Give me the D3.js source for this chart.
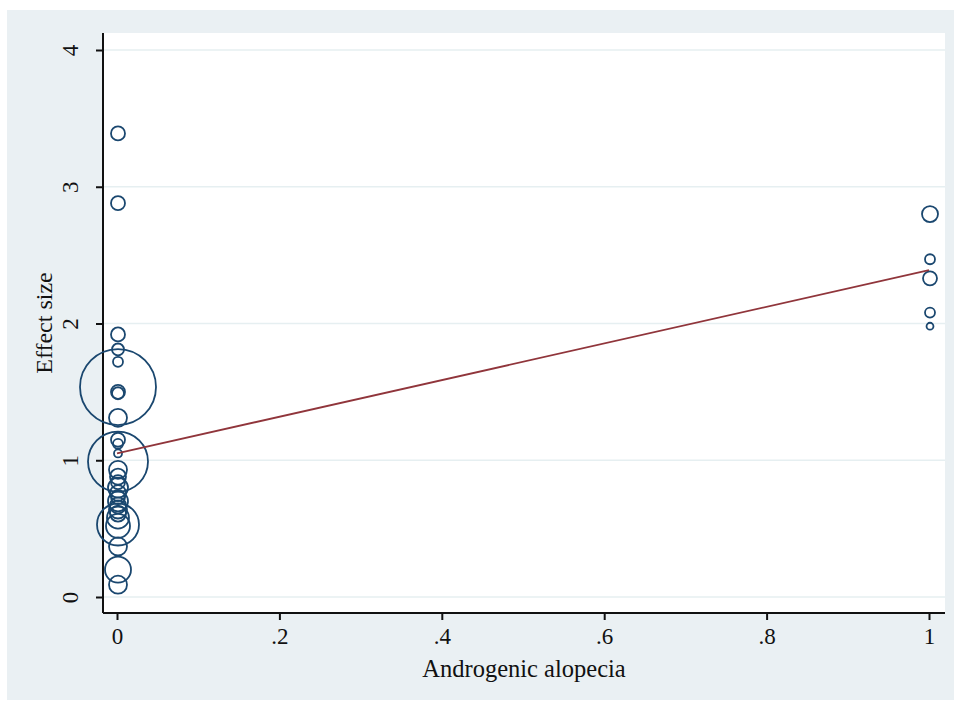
<!DOCTYPE html>
<html>
<head>
<meta charset="utf-8">
<script src="https://cdn.jsdelivr.net/npm/d3@7"></script>
<style>
  html, body { margin: 0; padding: 0; background: #ffffff; }
  svg { display: block; }
  text { font-family: "Liberation Serif", "Times New Roman", serif; fill: #111; }
</style>
</head>
<body>
<svg id="chart" width="954" height="702"></svg>
<script>
// Studies without androgenic alopecia (x = 0): effect size and weight
const groupNoEffect = [3.39, 2.88, 1.92, 1.81, 1.72, 1.535, 1.50, 1.49, 1.31, 1.15, 1.12, 1.05, 0.99,
  0.93, 0.88, 0.84, 0.80, 0.76, 0.73, 0.70, 0.67, 0.64, 0.61, 0.58, 0.53, 0.52, 0.37, 0.20, 0.09];
const groupNoWeight = [49, 49, 49, 36, 25, 1444, 49, 36, 81, 49, 25, 16, 900,
  81, 64, 49, 100, 64, 49, 100, 64, 81, 64, 121, 441, 144, 81, 169, 81];

// Studies with androgenic alopecia (x = 1)
const groupYesEffect = [2.80, 2.47, 2.33, 2.08, 1.98];
const groupYesWeight = [64, 25, 49, 25, 12];

// Fitted meta-regression line (intercept at x = 0, value at x = 1)
const fitX = [0, 1];
const fitY = [1.05, 2.39];

const xTicks = [0, 0.2, 0.4, 0.6, 0.8, 1];
const xTickLabels = ["0", ".2", ".4", ".6", ".8", "1"];
const yTicks = [0, 1, 2, 3, 4];
const yTickLabels = ["0", "1", "2", "3", "4"];
const xTitle = "Androgenic alopecia";
const yTitle = "Effect size";

const svg = d3.select("#chart");

// Outer graph region
svg.append("rect").attr("x", 7).attr("y", 10).attr("width", 947).attr("height", 690)
  .attr("fill", "#eaf0f3");

// Plot region
const plot = { left: 103, top: 33, right: 945, bottom: 613 };
svg.append("rect").attr("x", plot.left).attr("y", plot.top)
  .attr("width", plot.right - plot.left).attr("height", plot.bottom - plot.top)
  .attr("fill", "#ffffff");

const x = d3.scaleLinear().domain([0, 1]).range([117, 929]);
const y = d3.scaleLinear().domain([0, 4]).range([597, 50]);
const r = d3.scaleSqrt().domain([0, 1]).range([0, 1]);

// Horizontal grid lines
svg.append("g").selectAll("line").data(yTicks).join("line")
  .attr("x1", plot.left).attr("x2", plot.right)
  .attr("y1", d => y(d)).attr("y2", d => y(d))
  .attr("stroke", "#e6eff1").attr("stroke-width", 1.5);

// Y axis
const yAxis = d3.axisLeft(y).tickValues(yTicks).tickSize(7).tickPadding(0)
  .tickFormat((d, i) => yTickLabels[i]);
const gy = svg.append("g").attr("transform", `translate(${plot.left},0)`).call(yAxis);
gy.select(".domain").attr("d", `M0,${plot.top}V${plot.bottom}`).attr("stroke", "#111").attr("stroke-width", 2);
gy.selectAll(".tick line").attr("stroke", "#111").attr("stroke-width", 2);
gy.selectAll(".tick text")
  .attr("font-size", 23).attr("text-anchor", "middle")
  .attr("transform", "translate(-33,0) rotate(-90)")
  .attr("x", 0).attr("y", 0).attr("dy", "0.35em");

// X axis
const xAxis = d3.axisBottom(x).tickValues(xTicks).tickSize(7).tickPadding(8)
  .tickFormat((d, i) => xTickLabels[i]);
const gx = svg.append("g").attr("transform", `translate(0,${plot.bottom})`).call(xAxis);
gx.select(".domain").attr("d", `M${plot.left},0H${plot.right}`).attr("stroke", "#111").attr("stroke-width", 2);
gx.selectAll(".tick line").attr("stroke", "#111").attr("stroke-width", 2);
gx.selectAll(".tick text").attr("font-size", 23);
gy.selectAll("text").attr("fill", "#111");
gx.selectAll("text").attr("fill", "#111");

// Axis titles
svg.append("text").attr("x", (plot.left + plot.right) / 2).attr("y", 677)
  .attr("text-anchor", "middle").attr("font-size", 24.5).text(xTitle);
svg.append("text").attr("transform", `translate(52,${(plot.top + plot.bottom) / 2}) rotate(-90)`)
  .attr("text-anchor", "middle").attr("font-size", 24).text(yTitle);

// Weighted bubbles
const points = groupNoEffect.map((v, i) => ({ x: 0, y: v, w: groupNoWeight[i] }))
  .concat(groupYesEffect.map((v, i) => ({ x: 1, y: v, w: groupYesWeight[i] })));
svg.append("g").selectAll("circle").data(points).join("circle")
  .attr("cx", d => x(d.x) + 1).attr("cy", d => y(d.y)).attr("r", d => r(d.w))
  .attr("fill", "none").attr("stroke", "#1a476f").attr("stroke-width", 1.8);

// Fitted line
const line = d3.line().x(d => x(d[0])).y(d => y(d[1]));
svg.append("path").datum(fitX.map((v, i) => [v, fitY[i]]))
  .attr("d", line).attr("fill", "none").attr("stroke", "#90353b").attr("stroke-width", 1.8);
</script>
</body>
</html>
